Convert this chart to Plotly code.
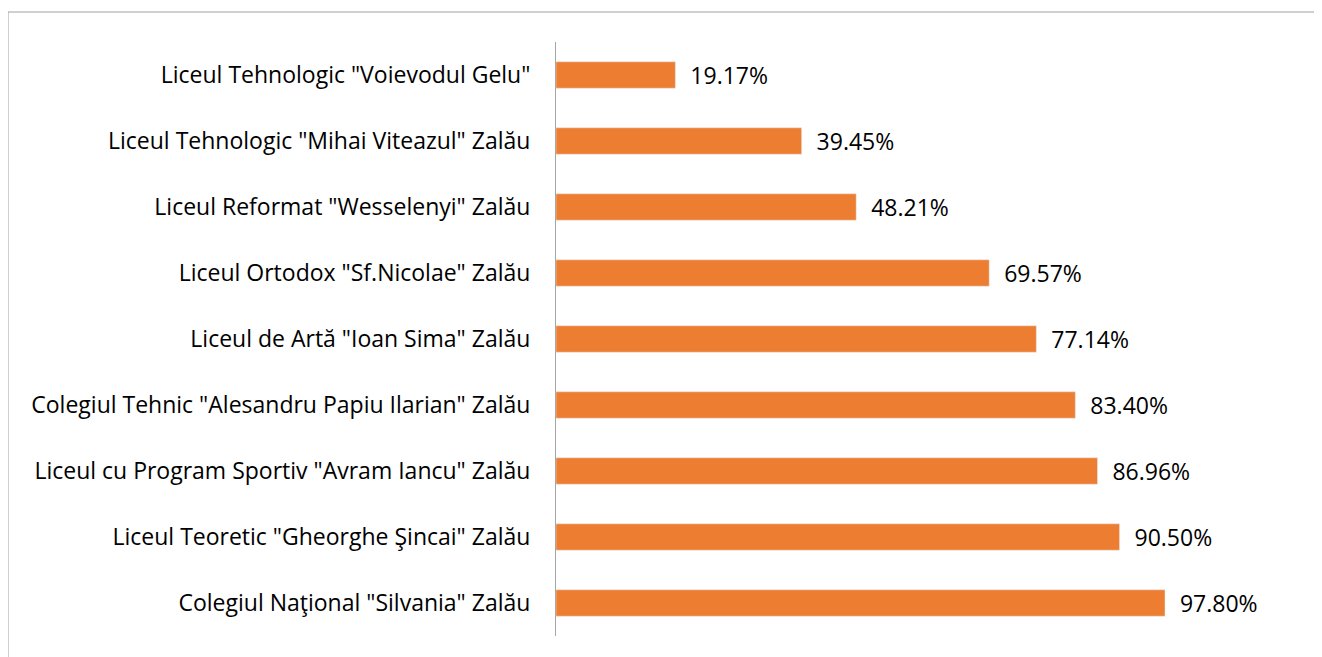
import plotly.graph_objects as go

schools = [
    'Colegiul Naţional "Silvania" Zalău',
    'Liceul Teoretic "Gheorghe Şincai" Zalău',
    'Liceul cu Program Sportiv "Avram Iancu" Zalău',
    'Colegiul Tehnic "Alesandru Papiu Ilarian" Zalău',
    'Liceul de Artă "Ioan Sima" Zalău',
    'Liceul Ortodox "Sf.Nicolae" Zalău',
    'Liceul Reformat "Wesselenyi" Zalău',
    'Liceul Tehnologic "Mihai Viteazul" Zalău',
    'Liceul Tehnologic "Voievodul Gelu"',
]
rates = [97.80, 90.50, 86.96, 83.40, 77.14, 69.57, 48.21, 39.45, 19.17]
labels = ["  %.2f%%" % v for v in rates]

# page body has an 8px margin, so offsets are shifted by 8
off = 8
W, H = 1322, 657
left, right, top, bottom = 556 - off, 32 + off, 42 - off, 21 + off
pw = W - left - right
ph = H - top - bottom

fig = go.Figure(go.Bar(
    y=schools, x=rates, orientation="h",
    marker=dict(color="#ED7D31"),
    text=labels, textposition="outside", cliponaxis=False,
    constraintext="none",
    textfont=dict(size=23, color="#000000"),
))

# outer chart border
fig.add_shape(type="rect", xref="paper", yref="paper",
              x0=(8 - 556) / pw, x1=(W + 20 - 556) / pw,
              y0=-(40) / ph, y1=(636 - 12) / ph,
              line=dict(color="#A0A0A0", width=1), fillcolor="rgba(0,0,0,0)")

fig.update_layout(
    width=W, height=H,
    margin=dict(l=left, r=right, t=top, b=bottom),
    plot_bgcolor="white", paper_bgcolor="white",
    font=dict(family="Open Sans, sans-serif", size=23, color="#000000"),
    bargap=0.6, showlegend=False,
    xaxis=dict(range=[0, pw / ((1165 - 556) / 97.8)], visible=False),
    yaxis=dict(showline=True, linecolor="#A6A6A6", linewidth=1,
               ticks="outside", ticklen=20, tickcolor="rgba(0,0,0,0)",
               showgrid=False, tickfont=dict(size=23, color="#000000")),
)

fig.write_html("out.html")
